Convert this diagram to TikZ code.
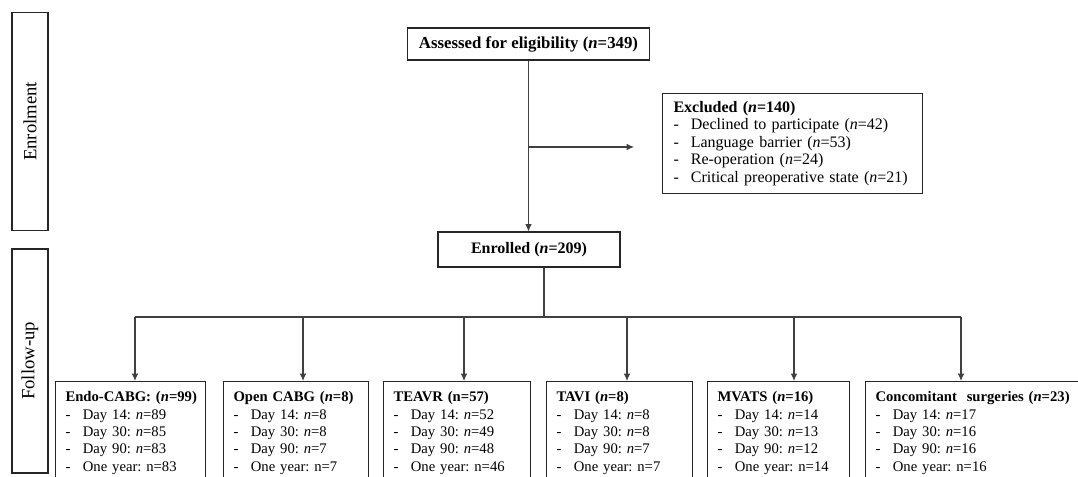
\documentclass[tikz,border=0pt]{standalone}
\usepackage{fontspec}
\setmainfont{Liberation Serif}
\usetikzlibrary{shapes,arrows.meta,positioning,calc}
\newcommand{\litem}[1]{\makebox[13pt][l]{-}#1}
\frenchspacing

\begin{document}
\begin{tikzpicture}[x=0.75pt,y=-0.75pt,
  box/.style={rectangle, draw=black!85, line width=0.8pt, font=\fontsize{11}{13}\selectfont},
  grande/.style={font=\fontsize{12}{13.2}\selectfont},
  lista/.style={box, anchor=north west, align=left, inner xsep=7.5pt, inner ysep=7.5pt},
  linea/.style={draw=black!75, line width=0.8pt},
  freccia/.style={linea, -{Latex[length=5.5pt,width=5pt]}}]
\useasboundingbox (0,0) rectangle (1078,477);
\clip (0,0) rectangle (1078,477);

% fasi
\node[box, font=\fontsize{14}{16}\selectfont, rotate=90, minimum width=164pt, minimum height=27pt] (lblenr) at (30,121.5) {Enrolment};
\node[box, font=\fontsize{14}{16}\selectfont, rotate=90, minimum width=168pt, minimum height=27pt] (lblfol) at (30,361) {Follow-up};

% arruolamento
\node[box, font=\fontsize{12.6}{14}\selectfont, minimum width=182pt, minimum height=24pt] (assess) at (528.5,44) {\textbf{Assessed for eligibility (\textit{n}=349)}};
\node[lista, grande, text width=178.5pt, inner xsep=8.25pt, inner ysep=3pt, minimum height=75pt] (excl) at (662,93)
  {\textbf{Excluded (\textit{n}=140)}\\
   \litem{Declined to participate (\textit{n}=42)}\\
   \litem{Language barrier (\textit{n}=53)}\\
   \litem{Re-operation (\textit{n}=24)}\\
   \litem{Critical preoperative state (\textit{n}=21)}};
\node[box, grande, minimum width=136.5pt, minimum height=26.25pt] (enrol) at (529,249.5) {\textbf{Enrolled (\textit{n}=209)}};

% gruppi
\node[lista, text width=97.5pt] (endo) at (55,381)
  {\mbox{\textbf{Endo-CABG: (\textit{n}=99)}}\\ \litem{Day 14: \textit{n}=89}\\ \litem{Day 30: \textit{n}=85}\\
   \litem{Day 90: \textit{n}=83}\\ \litem{One year: n=83\rule[-12pt]{0pt}{0pt}}};
\node[lista, text width=93.75pt] (open) at (223,381)
  {\mbox{\textbf{Open CABG (\textit{n}=8)}}\\ \litem{Day 14: \textit{n}=8}\\ \litem{Day 30: \textit{n}=8}\\
   \litem{Day 90: \textit{n}=7}\\ \litem{One year: n=7\rule[-12pt]{0pt}{0pt}}};
\node[lista, text width=95.25pt] (teavr) at (383,381)
  {\mbox{\textbf{TEAVR (n=57)}}\\ \litem{Day 14: \textit{n}=52}\\ \litem{Day 30: \textit{n}=49}\\
   \litem{Day 90: \textit{n}=48}\\ \litem{One year: n=46\rule[-12pt]{0pt}{0pt}}};
\node[lista, text width=94.5pt] (tavi) at (546,381)
  {\mbox{\textbf{TAVI (\textit{n}=8)}}\\ \litem{Day 14: \textit{n}=8}\\ \litem{Day 30: \textit{n}=8}\\
   \litem{Day 90: \textit{n}=7}\\ \litem{One year: n=7\rule[-12pt]{0pt}{0pt}}};
\node[lista, text width=91.5pt] (mvats) at (707,381)
  {\mbox{\textbf{MVATS (\textit{n}=16)}}\\ \litem{Day 14: \textit{n}=14}\\ \litem{Day 30: \textit{n}=13}\\
   \litem{Day 90: \textit{n}=12}\\ \litem{One year: n=14\rule[-12pt]{0pt}{0pt}}};
\node[lista, text width=180pt] (conc) at (865,381)
  {\mbox{\textbf{Concomitant\ \ surgeries (\textit{n}=23)}}\\ \litem{Day 14: \textit{n}=17}\\ \litem{Day 30: \textit{n}=16}\\
   \litem{Day 90: \textit{n}=16}\\ \litem{One year: n=16\rule[-12pt]{0pt}{0pt}}};

% frecce
\coordinate (split) at (529,147);
\coordinate (exclend) at (634,147);
\coordinate (hub) at (544,317);
\draw[freccia] (assess.south) -- (assess.south |- enrol.north);
\draw[freccia] (split) -- (exclend);
\draw[linea] (enrol.south -| hub) -- (hub);
\foreach \x/\n in {135/endo,303/open,464/teavr,627/tavi,794/mvats,961/conc} {
  \coordinate (d\n) at (\x,317);
  \draw[freccia] (d\n) -- (d\n |- \n.north);
}
\draw[linea] (dendo) -- (dconc);
\end{tikzpicture}
\end{document}
